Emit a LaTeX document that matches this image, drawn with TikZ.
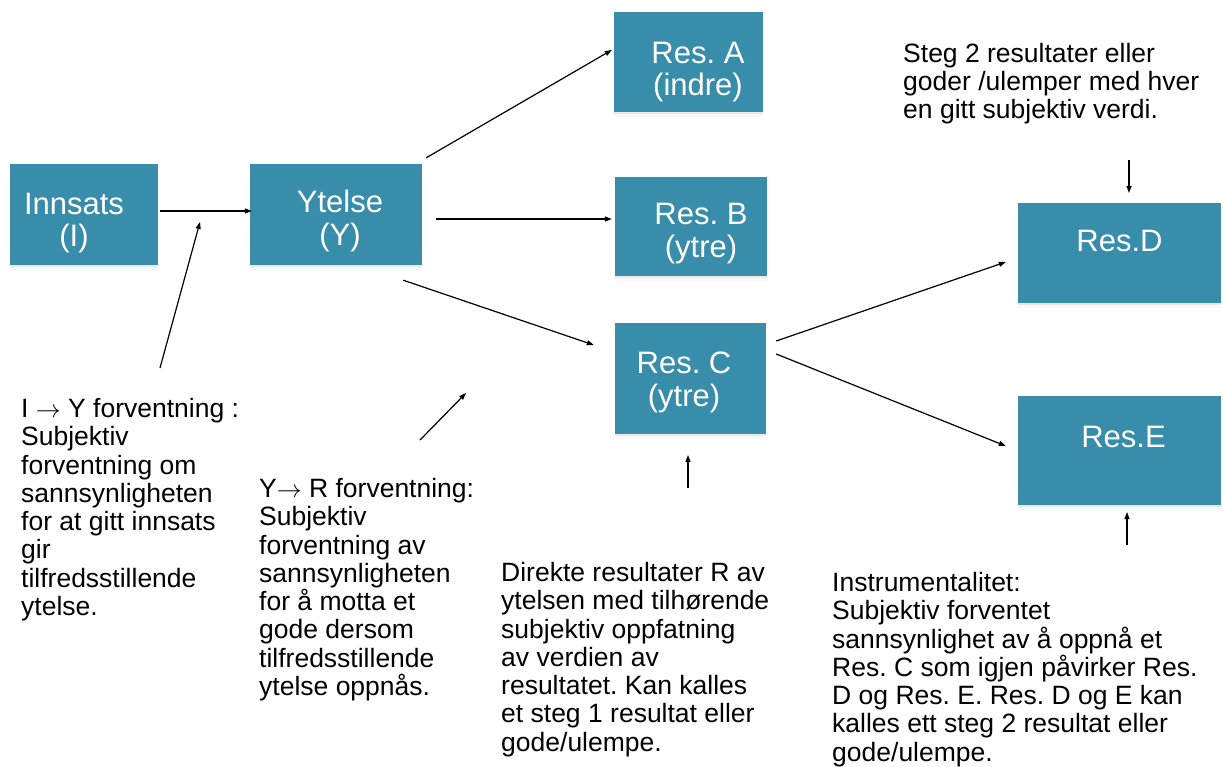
\documentclass[tikz,border=0pt]{standalone}
\usepackage{fontspec}
\setmainfont{Liberation Sans}
\usetikzlibrary{arrows.meta,shadows}
\definecolor{boxc}{RGB}{56,142,170}
\begin{document}
\frenchspacing
\begin{tikzpicture}[x=1pt,y=-1pt,
  box/.style={fill=boxc, draw=none, inner sep=0pt,
    drop shadow={shadow xshift=0pt, shadow yshift=-2pt, opacity=0.12},
    drop shadow={shadow xshift=0pt, shadow yshift=-5pt, opacity=0.06}},
  boxtext/.style={text=white, align=center, inner sep=0pt,
    font=\fontsize{31}{32.5}\selectfont},
  arr/.style={draw=black, line width=1.2pt, -{Triangle[length=7pt,width=5pt]}},
  note/.style={anchor=north west, align=left, inner sep=0pt,
    font=\fontsize{26.5}{28.3}\selectfont}]
\useasboundingbox (0,0) rectangle (1223,767);

% boxes
\node[box, minimum width=148pt, minimum height=101pt] (inn) at (84,214.5) {};
\node[box, minimum width=172pt, minimum height=101pt] (yt) at (336,214.5) {};
\node[box, minimum width=149pt, minimum height=100pt] (ra) at (688.5,62) {};
\node[box, minimum width=152pt, minimum height=99pt] (rb) at (691,226.5) {};
\node[box, minimum width=151pt, minimum height=111pt] (rc) at (690.5,378.5) {};
\node[box, minimum width=203pt, minimum height=100pt] (rd) at (1119.5,253) {};
\node[box, minimum width=203pt, minimum height=109pt] (re) at (1119.5,450.5) {};

% box labels
\node[boxtext] (innt) at ([shift={(-10,8.5)}]inn.center) {Innsats\\(I)};
\node[boxtext] (ytt) at ([shift={(4,6.5)}]yt.center) {Ytelse\\(Y)};
\node[boxtext] (rat) at ([shift={(9.5,10)}]ra.center) {Res. A\\(indre)};
\node[boxtext] (rbt) at ([shift={(10,7)}]rb.center) {Res. B\\(ytre)};
\node[boxtext] (rct) at ([shift={(-6.5,4)}]rc.center) {Res. C\\(ytre)};
\node[boxtext] (rdt) at ([shift={(0,-12)}]rd.center) {Res.D};
\node[boxtext] (ret) at ([shift={(4,-14)}]re.center) {Res.E};

% box-to-box arrows
\draw[arr] ([shift={(2,-3.5)}]inn.east) -- ([shift={(2,-3.5)}]yt.west);
\draw[arr] ([shift={(4,-6)}]yt.north east) -- ([shift={(-2,-12)}]ra.west);
\draw[arr] ([shift={(14,4.5)}]yt.east) -- ([shift={(-3,-7.5)}]rb.west);
\draw[arr] ([shift={(-19,15)}]yt.south east) -- ([shift={(-21,-33.5)}]rc.west);
\draw[arr] ([shift={(10,-37.5)}]rc.east) -- ([shift={(-12,9)}]rd.west);
\draw[arr] ([shift={(10,-24.5)}]rc.east) -- ([shift={(-12,-4.5)}]re.west);

% free pointer arrows
\coordinate (p1s) at (160,368); \coordinate (p1e) at (200,222);
\coordinate (p2s) at (420,440); \coordinate (p2e) at (466,393);
\coordinate (p3s) at (688,488); \coordinate (p3e) at (688,455);
\coordinate (p4s) at (1129,160); \coordinate (p4e) at (1129,193);
\coordinate (p5s) at (1127,545); \coordinate (p5e) at (1127,512);
\draw[arr] (p1s) -- (p1e);
\draw[arr] (p2s) -- (p2e);
\draw[arr] (p3s) -- (p3e);
\draw[arr] (p4s) -- (p4e);
\draw[arr] (p5s) -- (p5e);

% notes
\node[note] (n1) at (21,398) {I $\rightarrow$ Y forventning :\\Subjektiv\\forventning om\\sannsynligheten\\for at gitt innsats\\gir\\tilfredsstillende\\ytelse.};
\node[note] (n2) at (259,478) {Y$\rightarrow$ R forventning:\\Subjektiv\\forventning av\\sannsynligheten\\for å motta et\\gode dersom\\tilfredsstillende\\ytelse oppnås.};
\node[note] (n3) at (501,562) {Direkte resultater R av\\ytelsen med tilhørende\\subjektiv oppfatning\\av verdien av\\resultatet. Kan kalles\\et steg 1 resultat eller\\gode/ulempe.};
\node[note] (n4) at (832,572) {Instrumentalitet:\\Subjektiv forventet\\sannsynlighet av å oppnå et\\Res. C som igjen påvirker Res.\\D og Res. E. Res. D og E kan\\kalles ett steg 2 resultat eller\\gode/ulempe.};
\node[note] (n5) at (903,43) {Steg 2 resultater eller\\goder /ulemper med hver\\en gitt subjektiv verdi.};
\end{tikzpicture}
\end{document}
